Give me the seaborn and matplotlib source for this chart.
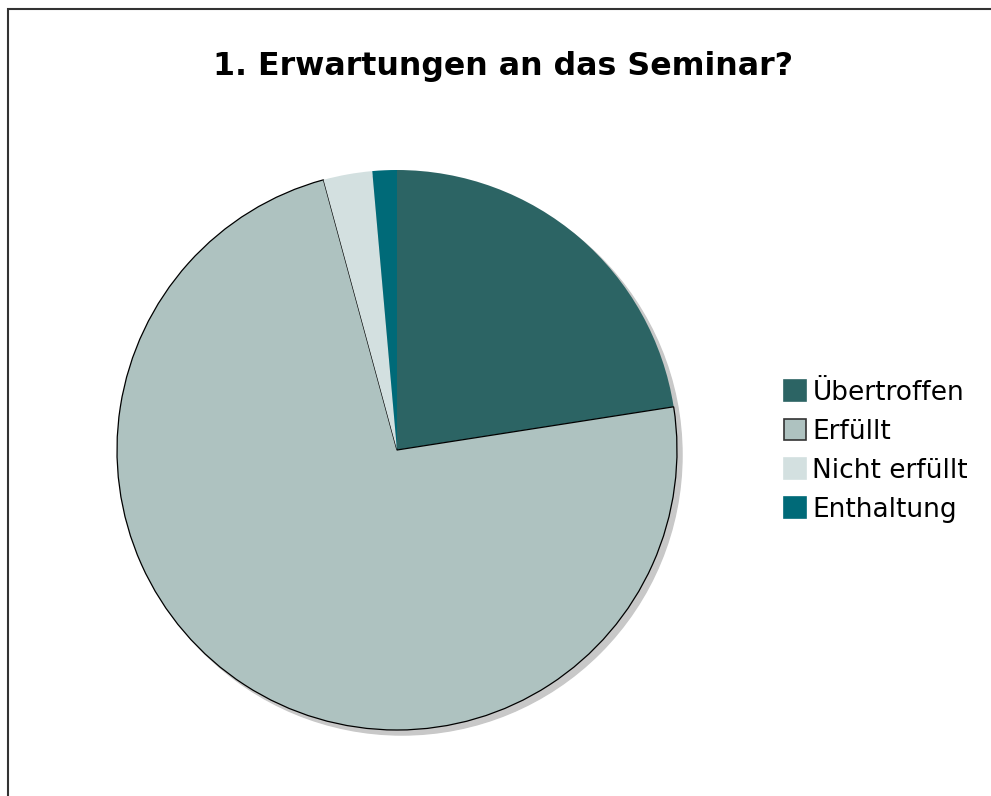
import numpy as np
import seaborn as sns
import matplotlib.pyplot as plt
from matplotlib.patches import Circle, Rectangle, Patch

sns.set_theme(style="white")
plt.rcParams["font.family"] = ["DejaVu Sans"]

# data
categories = ["Übertroffen", "Erfüllt", "Nicht erfüllt", "Enthaltung"]
counts = [16, 52, 2, 1]
colors = sns.color_palette(["#2c6464", "#aec2c0", "#d3e0e0", "#006a78"])

fig = plt.figure(figsize=(9.91, 7.96), dpi=100)

# frame line at top and left like the original export
fig.add_artist(Rectangle((8 / 991, -0.1), 1.2, 1.1 - 9 / 796, transform=fig.transFigure,
                         fill=False, edgecolor="#333333", linewidth=1.5))

ax = fig.add_axes([117 / 991, 66 / 796, 560 / 991, 560 / 796])

# soft shadow behind the pie
ax.add_patch(Circle((0.018, -0.018), 1.0, color="#c8c8c8", zorder=0, clip_on=False))

wedges, _ = ax.pie(counts, colors=colors, startangle=90, counterclock=False,
                   wedgeprops=dict(linewidth=0))
wedges[1].set_edgecolor("black")
wedges[1].set_linewidth(0.9)
for w in wedges:
    w.set_zorder(1)
    w.set_clip_on(False)

ax.set_xlim(-1.0, 1.0)
ax.set_ylim(-1.0, 1.0)
ax.set_aspect("equal")
ax.axis("off")

fig.text(0.508, 0.917, "1. Erwartungen an das Seminar?", ha="center", va="center",
         fontsize=22.8, fontweight="bold", color="black")

handles = [Patch(facecolor=c, edgecolor=("#333333" if i == 1 else c), linewidth=1.2)
           for i, c in enumerate(colors)]
leg = fig.legend(handles, categories, loc="center left", bbox_to_anchor=(784 / 991, 0.433),
                 frameon=False, fontsize=19, handlelength=0.83, handleheight=0.83,
                 handletextpad=0.25, labelspacing=0.49, borderpad=0, borderaxespad=0)
for t in leg.get_texts():
    t.set_color("black")

fig.savefig("out.png", dpi=100)
